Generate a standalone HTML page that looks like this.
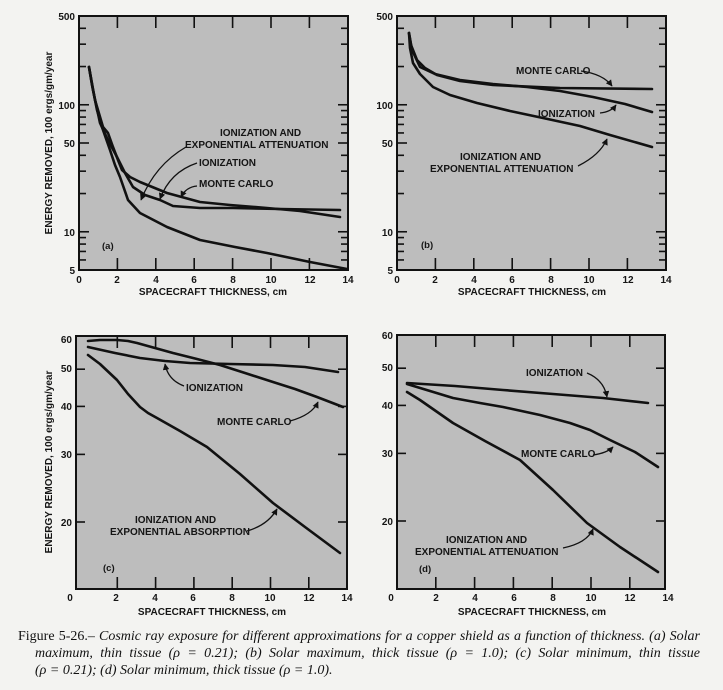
<!DOCTYPE html>
<html><head><meta charset="utf-8"><style>
html,body{margin:0;padding:0;background:#f3f3f1;}
svg{display:block}
.t{font-family:"Liberation Sans",sans-serif;font-size:10px;font-weight:bold;fill:#151515}
.s{font-family:"Liberation Sans",sans-serif;font-size:9.5px;font-weight:bold;fill:#151515}
.c{fill:none;stroke:#111;stroke-width:2.6;stroke-linecap:round;stroke-linejoin:round}
.a{fill:none;stroke:#111;stroke-width:1.3}
.cl{position:absolute;font-family:"Liberation Serif",serif;font-size:14px;line-height:17.5px;color:#111;font-style:italic;white-space:nowrap;text-align:justify;text-align-last:justify}
.cl span{font-style:normal}
</style></head><body>
<svg id="sv" width="723" height="690" viewBox="0 0 723 690" xmlns="http://www.w3.org/2000/svg">
<defs><marker id="m" viewBox="0 0 10 10" refX="9" refY="5" markerWidth="5" markerHeight="5" orient="auto"><path d="M0,0L10,5L0,10z" fill="#111"/></marker></defs>
<g id="frames">
<rect x="79" y="16" width="269" height="254" fill="#bdbdbd" stroke="#111" stroke-width="2"/>
<rect x="397" y="16" width="269" height="254" fill="#bdbdbd" stroke="#111" stroke-width="2"/>
<rect x="76" y="336" width="271" height="253" fill="#bdbdbd" stroke="#111" stroke-width="2"/>
<rect x="397" y="335" width="268" height="254" fill="#bdbdbd" stroke="#111" stroke-width="2"/>
</g>
<g id="ticks" stroke="#111" stroke-width="1.6"></g>

<polyline class="c" points="89,67 92,85 97,110 103,130 110,150 115,165 120,177 128,200 140,213 167,227 200,240 235,247 267,253 310,262 347,269"/>
<polyline class="c" points="89,67 93,90 100,123 108,140 117,157 125,173 133,187 145,195 160,200 173,206 200,208 233,208 280,209 340,210"/>
<polyline class="c" points="89,67 95,100 103,127 108,133 113,147 118,160 122,170 130,177 140,182 167,193 200,202 230,205 267,208 300,211 340,217"/>
<text class="t" x="220" y="136">IONIZATION AND</text>
<text class="t" x="185" y="148">EXPONENTIAL ATTENUATION</text>
<text class="t" x="199" y="166">IONIZATION</text>
<text class="t" x="199" y="187">MONTE CARLO</text>
<text class="s" x="102" y="249">(a)</text>
<path class="a" d="M186,147 Q155,165 141,200" marker-end="url(#m)"/>
<path class="a" d="M197,163 Q170,172 160,199" marker-end="url(#m)"/>
<path class="a" d="M197,186 Q186,187 181,197" marker-end="url(#m)"/>

<polyline class="c" points="409,33 411,45 417,60 425,68 437,75 460,81 493,85 560,88 652,89"/>
<polyline class="c" points="409,33 412,50 420,67 435,74 460,80 493,84 527,87 560,91 593,97 625,104 652,112"/>
<polyline class="c" points="409,33 410,48 413,63 420,74 433,87 450,95 477,103 510,111 543,118 580,126 610,135 652,147"/>
<text class="t" x="516" y="74">MONTE CARLO</text>
<text class="t" x="538" y="117">IONIZATION</text>
<text class="t" x="460" y="160">IONIZATION AND</text>
<text class="t" x="430" y="172">EXPONENTIAL ATTENUATION</text>
<text class="s" x="421" y="248">(b)</text>
<path class="a" d="M581,71 Q603,74 612,86" marker-end="url(#m)"/>
<path class="a" d="M600,113 Q611,112 616,105" marker-end="url(#m)"/>
<path class="a" d="M578,166 Q600,155 607,139" marker-end="url(#m)"/>

<polyline class="c" points="88,341 100,340 117,340 128,341 137,343 155,348 173,353 197,359 220,365 245,373 273,382 295,389 317,397 343,407"/>
<polyline class="c" points="88,347 115,353 140,358 165,361 190,363 230,364 273,365 305,367 338,372"/>
<polyline class="c" points="88,355 100,364 117,380 128,394 140,407 148,413 157,418 180,431 207,447 240,474 273,503 305,527 340,553"/>
<text class="t" x="186" y="391">IONIZATION</text>
<text class="t" x="217" y="425">MONTE CARLO</text>
<text class="t" x="135" y="523">IONIZATION AND</text>
<text class="t" x="110" y="535">EXPONENTIAL ABSORPTION</text>
<text class="s" x="103" y="571">(c)</text>
<path class="a" d="M184,386 Q168,380 165,364" marker-end="url(#m)"/>
<path class="a" d="M290,421 Q312,415 318,402" marker-end="url(#m)"/>
<path class="a" d="M247,531 Q268,525 277,509" marker-end="url(#m)"/>

<polyline class="c" points="407,383 455,386 503,390 553,394 603,398 648,403"/>
<polyline class="c" points="407,384 430,391 453,398 480,403 503,407 540,415 570,423 590,430 610,440 635,452 658,467"/>
<polyline class="c" points="407,392 420,400 453,423 485,441 520,460 553,490 587,523 620,547 658,572"/>
<text class="t" x="526" y="376">IONIZATION</text>
<text class="t" x="521" y="457">MONTE CARLO</text>
<text class="t" x="446" y="543">IONIZATION AND</text>
<text class="t" x="415" y="555">EXPONENTIAL ATTENUATION</text>
<text class="s" x="419" y="572">(d)</text>
<path class="a" d="M587,373 Q604,380 607,397" marker-end="url(#m)"/>
<path class="a" d="M593,455 Q607,453 613,447" marker-end="url(#m)"/>
<path class="a" d="M563,548 Q587,543 593,529" marker-end="url(#m)"/>

<g class="t" text-anchor="end">
<text x="75" y="20">500</text><text x="75" y="109">100</text><text x="75" y="147">50</text><text x="75" y="236">10</text><text x="75" y="274">5</text>
<text x="393" y="20">500</text><text x="393" y="109">100</text><text x="393" y="147">50</text><text x="393" y="236">10</text><text x="393" y="274">5</text>
<text x="72" y="343">60</text><text x="72" y="372">50</text><text x="72" y="410">40</text><text x="72" y="458">30</text><text x="72" y="526">20</text>
<text x="393" y="339">60</text><text x="393" y="371">50</text><text x="393" y="409">40</text><text x="393" y="457">30</text><text x="393" y="525">20</text>
</g>
<g class="t" text-anchor="middle">
<text x="79" y="283">0</text><text x="117" y="283">2</text><text x="156" y="283">4</text><text x="194" y="283">6</text><text x="233" y="283">8</text><text x="271" y="283">10</text><text x="310" y="283">12</text><text x="348" y="283">14</text>
<text x="397" y="283">0</text><text x="435" y="283">2</text><text x="474" y="283">4</text><text x="512" y="283">6</text><text x="551" y="283">8</text><text x="589" y="283">10</text><text x="628" y="283">12</text><text x="666" y="283">14</text>
<text x="70" y="601">0</text><text x="116" y="601">2</text><text x="155" y="601">4</text><text x="193" y="601">6</text><text x="232" y="601">8</text><text x="270" y="601">10</text><text x="309" y="601">12</text><text x="347" y="601">14</text>
<text x="391" y="601">0</text><text x="436" y="601">2</text><text x="475" y="601">4</text><text x="514" y="601">6</text><text x="553" y="601">8</text><text x="591" y="601">10</text><text x="630" y="601">12</text><text x="668" y="601">14</text>
<text x="213" y="295">SPACECRAFT THICKNESS, cm</text>
<text x="532" y="295">SPACECRAFT THICKNESS, cm</text>
<text x="212" y="615">SPACECRAFT THICKNESS, cm</text>
<text x="532" y="615">SPACECRAFT THICKNESS, cm</text>
<text transform="translate(52,143) rotate(-90)">ENERGY REMOVED, 100 ergs/gm/year</text>
<text transform="translate(52,462) rotate(-90)">ENERGY REMOVED, 100 ergs/gm/year</text>
</g>
</svg>
<div class="cl" style="left:18px;top:628px;width:682px"><span>Figure 5-26.–</span> Cosmic ray exposure for different approximations for a copper shield as a function of thickness. (a) Solar</div>
<div class="cl" style="left:35px;top:645px;width:665px">maximum, thin tissue (ρ = 0.21); (b) Solar maximum, thick tissue (ρ = 1.0); (c) Solar minimum, thin tissue</div>
<div class="cl" style="left:35px;top:662px;text-align-last:left">(ρ = 0.21); (d) Solar minimum, thick tissue (ρ = 1.0).</div>
<script>
var g=document.getElementById('ticks'),s='';
function L(x1,y1,x2,y2){s+='<line x1="'+x1+'" y1="'+y1+'" x2="'+x2+'" y2="'+y2+'"/>';}
var P=[{x0:79,x1:348,t:16,b:270,dx:19.2,log:1},{x0:397,x1:666,t:16,b:270,dx:19.2,log:1},{x0:76,x1:347,t:336,b:589,dx:19.15,o:79,log:0},{x0:397,x1:665,t:335,b:589,dx:19.4,o:397,log:0}];
P.forEach(function(p){var o=p.o||p.x0;
for(var i=2;i<=12;i+=2){var x=o+p.dx*i;L(x,p.t,x,p.t+12);L(x,p.b,x,p.b-12);}
if(p.log){var v=[6,7,8,9,10,20,30,40,50,60,70,80,90,100,200,300,400];
v.forEach(function(k){var y=16+127*Math.log10(500/k);var l=(k==10||k==100||k==50)?10:7;L(p.x0,y,p.x0+l,y);L(p.x1,y,p.x1-l,y);});}
else{[20,30,40,50].forEach(function(k){var y=(p.t+186)-384*Math.log10(k/20);L(p.x0,y,p.x0+9,y);L(p.x1,y,p.x1-9,y);});}
});
g.innerHTML=s;
</script>
</body></html>
